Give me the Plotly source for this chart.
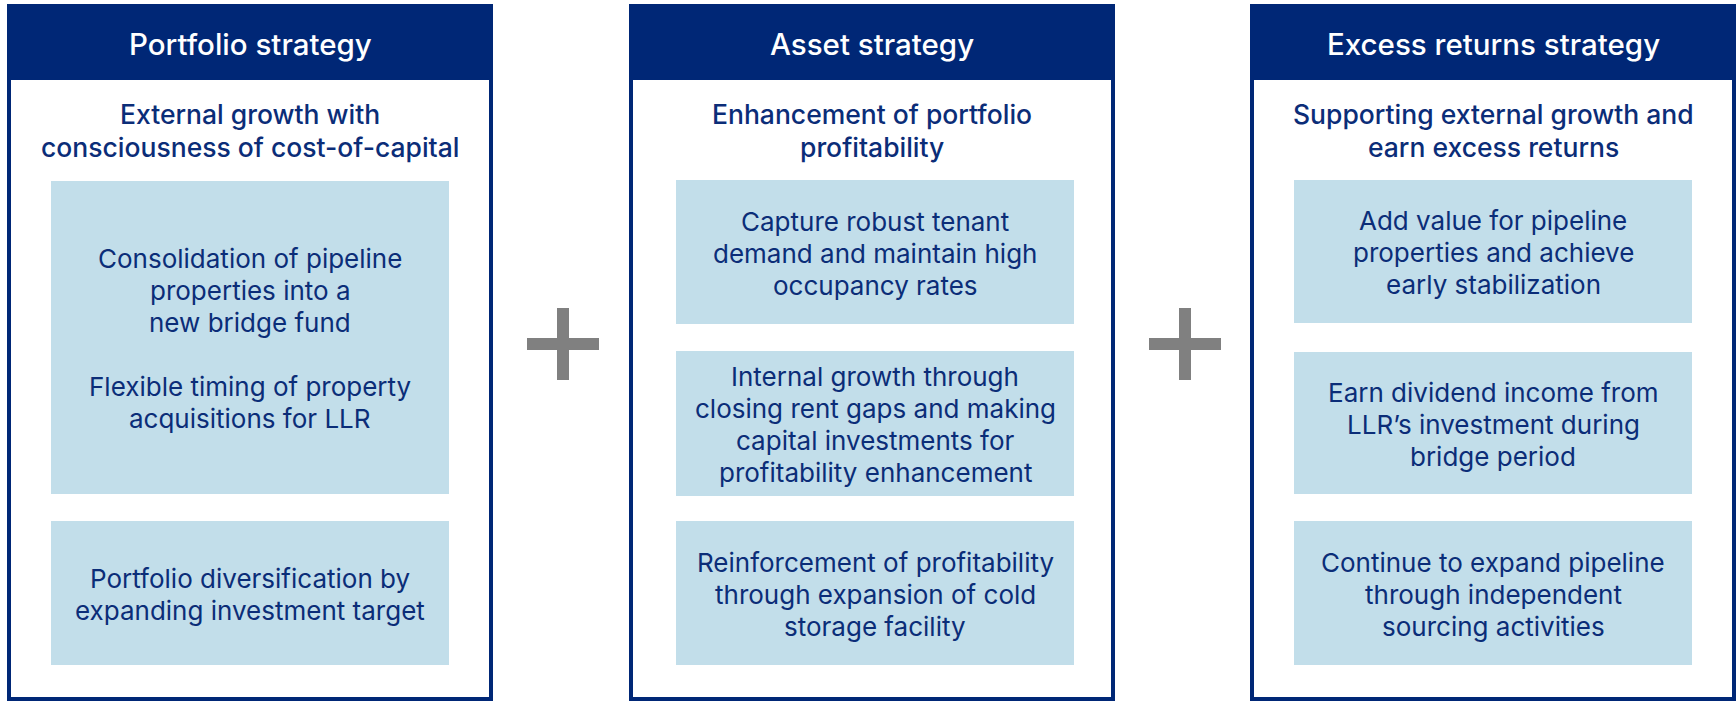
import plotly.graph_objects as go

# content
headers = ["Portfolio strategy", "Asset strategy", "Excess returns strategy"]
subtitles = [
    ["External growth with", "consciousness of cost-of-capital"],
    ["Enhancement of portfolio", "profitability"],
    ["Supporting external growth and", "earn excess returns"],
]
items = [
    [
        ["Consolidation of pipeline", "properties into a", "new bridge fund", "",
         "Flexible timing of property", "acquisitions for LLR"],
        ["Portfolio diversification by", "expanding investment target"],
    ],
    [
        ["Capture robust tenant", "demand and maintain high", "occupancy rates"],
        ["Internal growth through", "closing rent gaps and making",
         "capital investments for", "profitability enhancement"],
        ["Reinforcement of profitability", "through expansion of cold", "storage facility"],
    ],
    [
        ["Add value for pipeline", "properties and achieve", "early stabilization"],
        ["Earn dividend income from", "LLR\u2019s investment during", "bridge period"],
        ["Continue to expand pipeline", "through independent", "sourcing activities"],
    ],
]

# layout geometry (pixels)
W, H = 1736, 701
panel_x = [(7, 493), (629, 1115), (1250, 1736)]
inner_x = [(51, 449), (676, 1074), (1294, 1692)]
box_y = [
    [(181, 494), (521, 665)],
    [(180, 324), (351, 496), (521, 665)],
    [(180, 323), (352, 494), (521, 665)],
]
plus_x = [563, 1185]
plus_y = 344

NAVY = "#002776"
TEXT = "#0B2D78"
LIGHT = "#C2DEEA"
GREY = "#808080"
FONT = "Inter"
LINE = 32

fig = go.Figure()
shapes = []
annotations = []


def add_lines(lines, xc, yc, size, color, spacing, off=0, weight="normal"):
    n = len(lines)
    for i, txt in enumerate(lines):
        if not txt:
            continue
        y = yc + (i - (n - 1) / 2) * spacing + off
        annotations.append(dict(
            x=xc, y=y, xref="x", yref="y", text=txt, showarrow=False,
            xanchor="center", yanchor="middle",
            font=dict(family=FONT, size=size, color=color, weight=weight),
        ))


for p in range(3):
    x0, x1 = panel_x[p]
    # panel outline
    shapes.append(dict(type="rect", x0=x0 + 2, x1=x1 - 2, y0=6, y1=699,
                       line=dict(color=NAVY, width=4), fillcolor="white", layer="below"))
    # header band
    shapes.append(dict(type="rect", x0=x0, x1=x1, y0=4, y1=80,
                       line=dict(width=0), fillcolor=NAVY, layer="below"))
    xc = (x0 + x1) / 2
    add_lines([headers[p]], xc, 42, 29.5, "white", LINE, off=1.5, weight=500)
    add_lines(subtitles[p], xc, 131, 26.5, TEXT, 32.5, off=-0.5, weight=500)
    ix0, ix1 = inner_x[p]
    for b, (y0, y1) in enumerate(box_y[p]):
        shapes.append(dict(type="rect", x0=ix0, x1=ix1, y0=y0, y1=y1,
                           line=dict(width=0), fillcolor=LIGHT, layer="below"))
        add_lines(items[p][b], (ix0 + ix1) / 2, (y0 + y1) / 2, 26, TEXT, LINE, off=1)

# plus signs
for px in plus_x:
    shapes.append(dict(type="rect", x0=px - 6, x1=px + 6, y0=plus_y - 36, y1=plus_y + 36,
                       line=dict(width=0), fillcolor=GREY))
    shapes.append(dict(type="rect", x0=px - 36, x1=px + 36, y0=plus_y - 6, y1=plus_y + 6,
                       line=dict(width=0), fillcolor=GREY))

fig.update_layout(
    width=W, height=H,
    margin=dict(l=0, r=0, t=0, b=0),
    paper_bgcolor="white", plot_bgcolor="white",
    xaxis=dict(range=[0, W], visible=False, fixedrange=True),
    yaxis=dict(range=[H, 0], visible=False, fixedrange=True),
    shapes=shapes, annotations=annotations,
    showlegend=False,
)

fig.write_html(
    "out.html",
    config={"displayModeBar": False},
    post_script="document.body.style.margin='0';document.body.style.overflow='hidden';",
)
